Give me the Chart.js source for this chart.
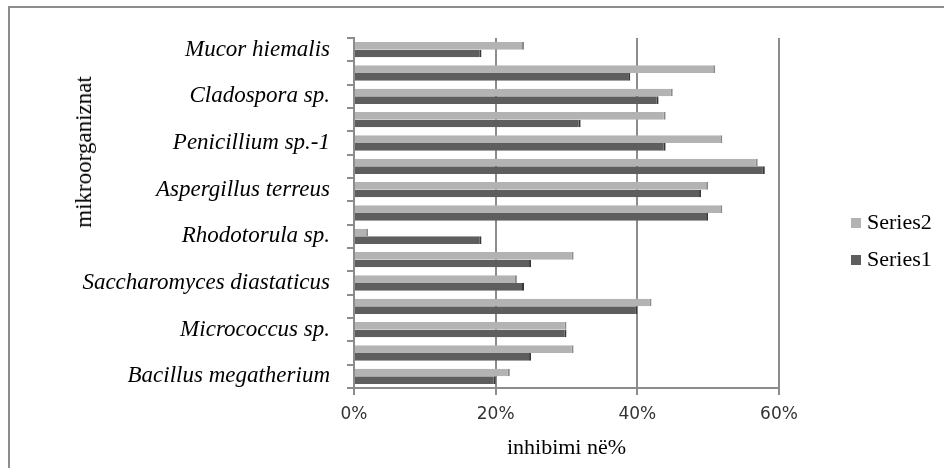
<!DOCTYPE html>
<html>
<head>
<meta charset="utf-8">
<script src="https://cdn.jsdelivr.net/npm/chart.js@4/dist/chart.umd.min.js"></script>
<style>
html,body{margin:0;padding:0;background:#fff;}
#wrap{position:relative;width:944px;height:468px;overflow:hidden;background:#fff;}
#frame{position:absolute;left:8px;top:6px;width:1000px;height:1000px;border:2px solid #8c8c8c;}
#c{position:absolute;left:0;top:0;}
#ytitle{position:absolute;left:84px;top:152px;transform:translate(-50%,-50%) rotate(-90deg);font:23px "Liberation Serif",serif;color:#000;white-space:nowrap;}
#legend{position:absolute;left:851px;top:208px;font:22px "Liberation Serif",serif;color:#000;}
#legend div{height:37px;line-height:28px;white-space:nowrap;}
#legend span{display:inline-block;width:10px;height:10px;margin-right:6px;vertical-align:1px;}
</style>
</head>
<body>
<div id="wrap">
<div id="frame"></div>
<canvas id="c" width="944" height="468"></canvas>
<div id="ytitle">mikroorganiznat</div>
<div id="legend"></div>
</div>
<script>
// kategorite nga poshte lart (Excel), etiketat e fshehura jane bosh
const categories=['Bacillus megatherium','','Micrococcus sp.','','Saccharomyces diastaticus','','Rhodotorula sp.','','Aspergillus terreus','','Penicillium sp.-1','','Cladospora sp.','','Mucor hiemalis'];
const series2=[22,31,30,42,23,31,2,52,50,57,52,44,45,51,24];
const series1=[20,25,30,40,24,25,18,50,49,58,44,32,43,39,18];
const xTicks=[0,20,40,60];

const grey='#8c8c8c';
let chart=new Chart(document.getElementById('c').getContext('2d'),{
 type:'bar',
 data:{labels:categories,datasets:[
  {label:'Series2',data:series2,backgroundColor:'#b3b3b3',borderColor:'#8a8a8a',borderWidth:{top:0,right:2,bottom:0,left:0},borderSkipped:false},
  {label:'Series1',data:series1,backgroundColor:'#5e5e5e',borderColor:'#383838',borderWidth:{top:0,right:2,bottom:0,left:0},borderSkipped:false}
 ]},
 options:{
  indexAxis:'y',
  responsive:false,
  animation:false,
  devicePixelRatio:1,
  categoryPercentage:0.66,
  barPercentage:1,
  layout:{padding:{top:38,right:165,left:0,bottom:0}},
  plugins:{legend:{display:false},tooltip:{enabled:false}},
  scales:{
   y:{
    type:'category',reverse:true,offset:true,
    grid:{drawOnChartArea:false,drawTicks:true,tickLength:7,color:grey,lineWidth:2,offset:true},
    border:{color:grey,width:2},
    ticks:{autoSkip:false,padding:17,color:'#000',font:{family:'"Liberation Serif", serif',size:23,style:'italic'}},
    afterFit:function(s){s.width=354;}
   },
   x:{
    min:0,max:60,
    afterBuildTicks:function(s){s.ticks=xTicks.map(v=>({value:v}));},
    grid:{color:grey,lineWidth:2,tickLength:7,drawTicks:true},
    border:{color:grey,width:2},
    ticks:{padding:9,color:'#333',font:{family:'"DejaVu Sans", sans-serif',size:17},callback:v=>v+'%'},
    title:{display:true,text:'inhibimi në%',color:'#000',font:{family:'"Liberation Serif", serif',size:22},padding:{top:0,bottom:7}},
    afterFit:function(s){s.height=80;}
   }
  }
 }
});

let lg=document.getElementById('legend');
chart.data.datasets.forEach(d=>{
 let row=document.createElement('div');
 row.innerHTML='<span style="background:'+d.backgroundColor+'"></span>'+d.label;
 lg.appendChild(row);
});
</script>
</body>
</html>
